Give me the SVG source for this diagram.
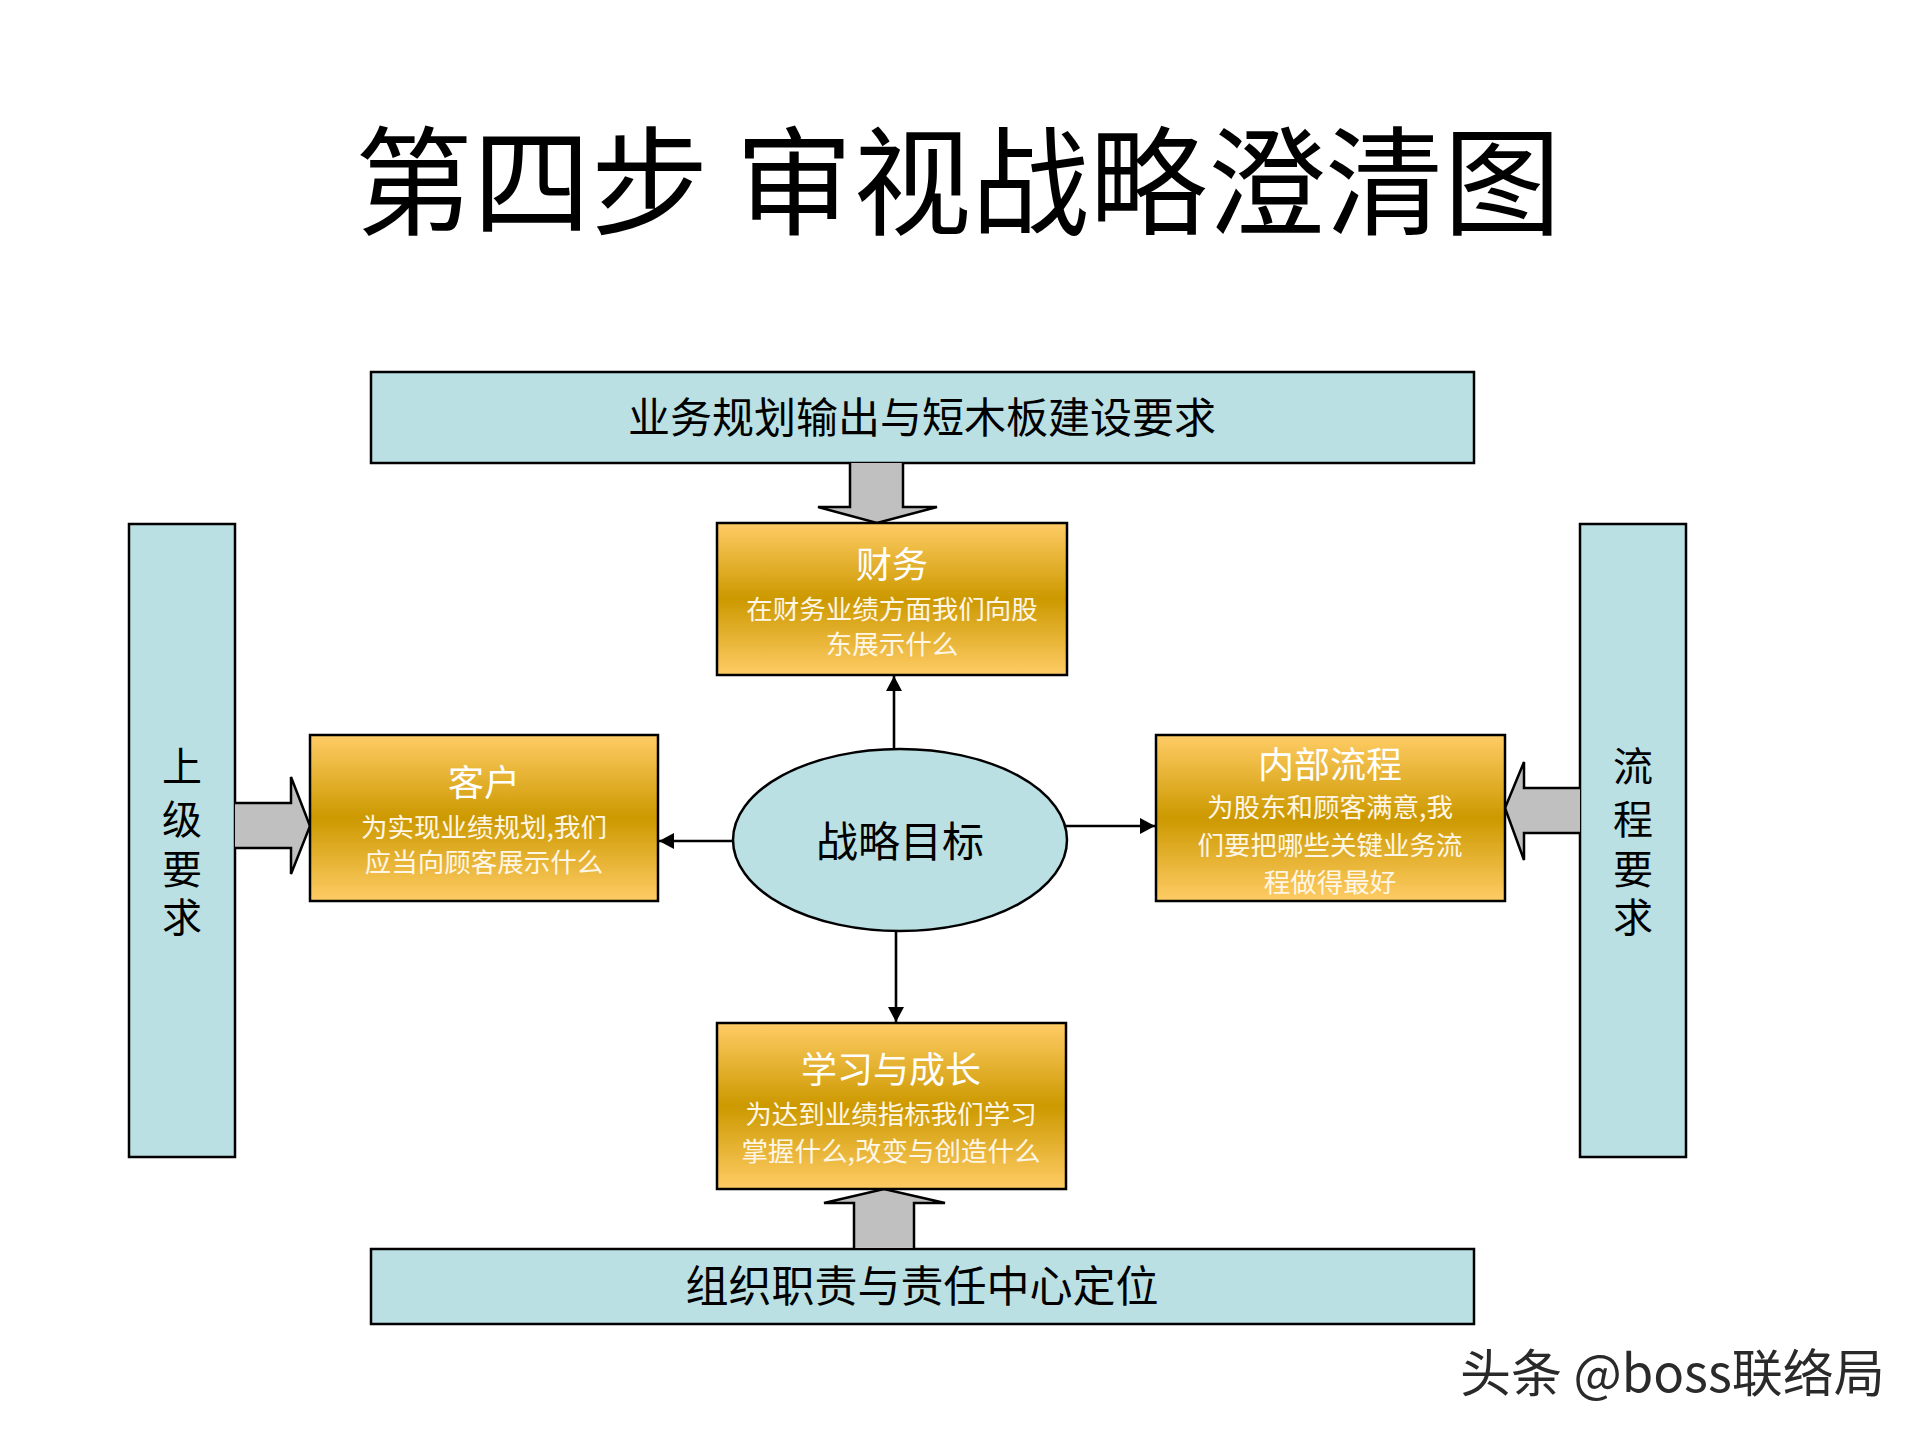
<svg xmlns="http://www.w3.org/2000/svg" width="1920" height="1440" viewBox="0 0 1920 1440">
<style>
text{font-family:"Noto Sans CJK SC","Noto Sans",sans-serif;}
.band{fill:#BAE0E3;stroke:#000;stroke-width:2.5;}
.gold{fill:url(#goldGrad);stroke:#000;stroke-width:2.5;}
.blk{fill:#C0C0C0;stroke:#000;stroke-width:2.5;stroke-linejoin:miter;}
.dark{fill:#000;}
.wt{fill:#FFFFFF;}
.ws{fill:#FFF6E6;}
.conn{stroke:#000;stroke-width:2.6;fill:none;}
</style>
<defs>
<linearGradient id="goldGrad" x1="0" y1="0" x2="0" y2="1">
<stop offset="0" stop-color="#FFCC66"/>
<stop offset="0.5" stop-color="#CC9900"/>
<stop offset="1" stop-color="#FFCC66"/>
</linearGradient>
<marker id="arr" markerUnits="userSpaceOnUse" markerWidth="16" markerHeight="16" refX="15" refY="8" orient="auto">
<path d="M0,0 L15,8 L0,16 z" fill="#000"/>
</marker>
</defs>
<rect width="1920" height="1440" fill="#FFFFFF"/>

<text x="958" y="226" font-size="118" text-anchor="middle" class="dark">第四步 审视战略澄清图</text>

<g id="top-banner">
<rect class="band" x="371" y="372" width="1103" height="91"/>
<text x="922" y="433" font-size="42" text-anchor="middle" class="dark">业务规划输出与短木板建设要求</text>
</g>

<g id="bottom-banner">
<rect class="band" x="371" y="1249" width="1103" height="75"/>
<text x="922" y="1302" font-size="43" text-anchor="middle" class="dark">组织职责与责任中心定位</text>
</g>

<g id="left-bar">
<rect class="band" x="129" y="524" width="106" height="633"/>
<text x="182" y="781" font-size="40" text-anchor="middle" class="dark">上</text>
<text x="182" y="834" font-size="40" text-anchor="middle" class="dark">级</text>
<text x="182" y="884" font-size="40" text-anchor="middle" class="dark">要</text>
<text x="182" y="932" font-size="40" text-anchor="middle" class="dark">求</text>
</g>

<g id="right-bar">
<rect class="band" x="1580" y="524" width="106" height="633"/>
<text x="1633" y="781" font-size="40" text-anchor="middle" class="dark">流</text>
<text x="1633" y="834" font-size="40" text-anchor="middle" class="dark">程</text>
<text x="1633" y="884" font-size="40" text-anchor="middle" class="dark">要</text>
<text x="1633" y="932" font-size="40" text-anchor="middle" class="dark">求</text>
</g>

<g id="block-arrows">
<path class="blk" d="M850,463 L850,507 L818,507 L877,523 L937,507 L903,507 L903,463"/>
<path class="blk" d="M854,1248 L854,1203 L824,1203 L884,1189 L945,1203 L914,1203 L914,1248"/>
<path class="blk" d="M235,803 L291,803 L291,777 L310,826 L291,874 L291,848 L235,848"/>
<path class="blk" d="M1580,788 L1524,788 L1524,762 L1505,808 L1524,860 L1524,833 L1580,833"/>
</g>

<g id="finance">
<rect class="gold" x="717" y="523" width="350" height="152"/>
<text x="892" y="578" font-size="36" text-anchor="middle" class="wt">财务</text>
<text x="892" y="619" font-size="26.5" text-anchor="middle" class="ws">在财务业绩方面我们向股</text>
<text x="892" y="654" font-size="26.5" text-anchor="middle" class="ws">东展示什么</text>
</g>

<g id="customer">
<rect class="gold" x="310" y="735" width="348" height="166"/>
<text x="484" y="796" font-size="36" text-anchor="middle" class="wt">客户</text>
<text x="484" y="837" font-size="26.5" text-anchor="middle" class="ws">为实现业绩规划,我们</text>
<text x="484" y="872" font-size="26.5" text-anchor="middle" class="ws">应当向顾客展示什么</text>
</g>

<g id="internal">
<rect class="gold" x="1156" y="735" width="349" height="166"/>
<text x="1330" y="778" font-size="36" text-anchor="middle" class="wt">内部流程</text>
<text x="1330" y="817" font-size="26.5" text-anchor="middle" class="ws">为股东和顾客满意,我</text>
<text x="1330" y="855" font-size="26.5" text-anchor="middle" class="ws">们要把哪些关键业务流</text>
<text x="1330" y="892" font-size="26.5" text-anchor="middle" class="ws">程做得最好</text>
</g>

<g id="learning">
<rect class="gold" x="717" y="1023" width="349" height="166"/>
<text x="891" y="1083" font-size="36" text-anchor="middle" class="wt">学习与成长</text>
<text x="891" y="1124" font-size="26.5" text-anchor="middle" class="ws">为达到业绩指标我们学习</text>
<text x="891" y="1161" font-size="26.5" text-anchor="middle" class="ws">掌握什么,改变与创造什么</text>
</g>

<g id="connectors">
<line class="conn" x1="894" y1="750" x2="894" y2="676" marker-end="url(#arr)"/>
<line class="conn" x1="733" y1="841" x2="659" y2="841" marker-end="url(#arr)"/>
<line class="conn" x1="1065" y1="826" x2="1155" y2="826" marker-end="url(#arr)"/>
<line class="conn" x1="896" y1="931" x2="896" y2="1022" marker-end="url(#arr)"/>
</g>

<g id="goal">
<ellipse cx="900" cy="840" rx="167" ry="91" fill="#BAE0E3" stroke="#000" stroke-width="2.5"/>
<text x="900" y="857" font-size="42" text-anchor="middle" class="dark">战略目标</text>
</g>

<text x="1460" y="1392" font-size="51" fill="#2a2a2a">头条 @boss联络局</text>
</svg>
